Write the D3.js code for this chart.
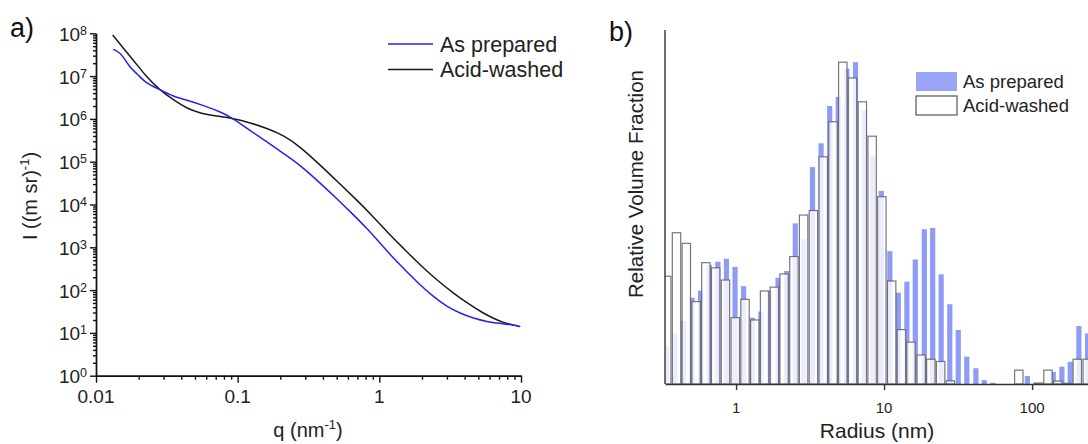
<!DOCTYPE html>
<html>
<head>
<meta charset="utf-8">
<script src="https://cdn.jsdelivr.net/npm/d3@7"></script>
<style>
  body { margin: 0; background: #fff; }
  svg { display: block; font-family: "Liberation Sans", Arial, sans-serif; }
</style>
</head>
<body>
<svg id="fig" width="1088" height="444"></svg>
<script>
// ---- panel a: scattering curves ----
var qPrep = [0.01325, 0.01494, 0.01577, 0.01758, 0.01938, 0.0228, 0.0283, 0.0352, 0.0437, 0.0605,
  0.0751, 0.0884, 0.104, 0.129, 0.1605, 0.210, 0.276, 0.382, 0.514, 0.640, 0.817, 1.014, 1.259,
  1.564, 1.941, 2.41, 3.00, 3.72, 4.62, 5.74, 7.13, 8.85, 9.87];
var iPrep = [4.23e7, 3.41e7, 2.61e7, 1.52e7, 1.16e7, 6.53e6, 4.92e6, 3.30e6, 2.77e6, 1.93e6,
  1.47e6, 1.12e6, 7.89e5, 4.76e5, 2.93e5, 1.57e5, 8.37e4, 3.18e4, 1.27e4, 6220, 2780, 1240, 553,
  269, 131.5, 70.1, 40.9, 28.7, 21.9, 18.3, 16.7, 15.3, 14.0];
var qWash = [0.01312, 0.01559, 0.01834, 0.0228, 0.0283, 0.0352, 0.0437, 0.0543, 0.0712, 0.0932,
  0.1224, 0.1605, 0.210, 0.276, 0.382, 0.528, 0.693, 0.861, 1.130, 1.48, 1.941, 2.55, 3.34, 4.38,
  5.43, 6.39, 7.52, 8.85, 9.87];
var iWash = [9.12e7, 4.47e7, 2.38e7, 9.37e6, 4.73e6, 2.77e6, 1.77e6, 1.35e6, 1.17e6, 1.03e6,
  8.15e5, 6.03e5, 4.20e5, 2.24e5, 8.37e4, 3.01e4, 1.27e4, 6220, 2310, 948, 386, 172, 84.1, 44.9,
  28.7, 21.9, 17.3, 15.3, 14.0];
var qTicks = [0.01, 0.1, 1, 10];
var qTickLabels = ["0.01", "0.1", "1", "10"];
var iExponents = [0, 1, 2, 3, 4, 5, 6, 7, 8];

// ---- panel b: size distributions ----
var rPrep = [0.338, 0.386, 0.441, 0.504, 0.576, 0.659, 0.753, 0.861, 0.984, 1.125, 1.287, 1.471,
  1.681, 1.922, 2.197, 2.512, 2.872, 3.283, 3.753, 4.290, 4.904, 5.606, 6.41, 7.33, 8.38, 9.57,
  10.94, 12.47, 14.26, 16.25, 18.7, 21.3, 24.3, 27.8, 31.7, 36.2, 41.7, 47.5, 54.4, 62.2, 71.1,
  81.3, 92.9, 106, 121, 139, 159, 181, 207, 237];
var vPrep = [0.12, 0.158, 0.196, 0.268, 0.290, 0.37, 0.380, 0.389, 0.364, 0.304, 0.206, 0.225,
  0.29, 0.33, 0.351, 0.499, 0.45, 0.674, 0.748, 0.864, 0.892, 0.98, 1.0, 0.85, 0.71, 0.60, 0.413,
  0.284, 0.318, 0.387, 0.481, 0.485, 0.341, 0.248, 0.168, 0.085, 0.049, 0.012, 0.004, 0, 0, 0,
  0.025, 0, 0, 0.038, 0.054, 0.069, 0.180, 0.157];
var rWash = [0.340, 0.396, 0.461, 0.537, 0.625, 0.728, 0.848, 0.988, 1.149, 1.338, 1.558, 1.814,
  2.11, 2.46, 2.86, 3.33, 3.88, 4.52, 5.26, 6.12, 7.13, 8.30, 9.66, 11.25, 13.1, 15.2, 17.8, 20.7,
  24.1, 28.0, 32.6, 38.0, 44.2, 51.5, 60.0, 69.8, 81.3, 94.6, 110, 128, 149, 174, 202, 236];
var vWash = [0.335, 0.470, 0.437, 0.256, 0.377, 0.361, 0.323, 0.206, 0.263, 0.199, 0.289, 0.301,
  0.342, 0.396, 0.525, 0.539, 0.706, 0.815, 1.0, 0.951, 0.877, 0.770, 0.582, 0.320, 0.169, 0.130,
  0.090, 0.077, 0.070, 0.010, 0, 0, 0, 0, 0, 0, 0.043, 0, 0.003, 0.043, 0.009, 0.002, 0.077, 0.077];
var rTicks = [1, 10, 100];

var seriesNames = ["As prepared", "Acid-washed"];
var lineColors = ["#2323f0", "#1a1a1a"];
var barBlue = "#8e9cf6";

var svg = d3.select("#fig");

// ================= panel a =================
var xa = d3.scaleLog().domain([0.01, 10]).range([96, 521]);
var ya = d3.scaleLog().domain([1, 1e8]).range([375.7, 33.3]);

function minorsOf(lo, hi) {
  var out = [];
  for (var d = lo; d < hi; d *= 10)
    for (var k = 2; k <= 9; k++) out.push(d * k);
  return out;
}

var ga = svg.append("g");

// minor + major ticks via d3 axes
ga.append("g").attr("transform", "translate(0,375.7)")
  .call(d3.axisBottom(xa).tickValues(minorsOf(0.01, 10)).tickSize(4).tickSizeOuter(0).tickFormat(""));
ga.append("g").attr("transform", "translate(0,375.7)")
  .call(d3.axisBottom(xa).tickValues(qTicks).tickSize(7).tickSizeOuter(0).tickFormat(""));
ga.append("g").attr("transform", "translate(96,0)")
  .call(d3.axisLeft(ya).tickValues(minorsOf(1, 1e8)).tickSize(3).tickSizeOuter(0).tickFormat(""));
ga.append("g").attr("transform", "translate(96,0)")
  .call(d3.axisLeft(ya).tickValues(iExponents.map(function (e) { return Math.pow(10, e); }))
    .tickSize(6).tickSizeOuter(0).tickFormat(""));
ga.selectAll(".domain, .tick line").attr("stroke", "#111").attr("stroke-width", 1.4);

qTicks.forEach(function (q, i) {
  ga.append("text").attr("x", xa(q)).attr("y", 402.5).attr("text-anchor", "middle")
    .attr("font-size", 19).attr("fill", "#222").text(qTickLabels[i]);
});
iExponents.forEach(function (e) {
  var t = ga.append("text").attr("x", 87).attr("y", ya(Math.pow(10, e)) + 7.5)
    .attr("text-anchor", "end").attr("font-size", 19).attr("fill", "#222");
  t.append("tspan").text("10");
  t.append("tspan").attr("dy", -6).attr("font-size", 12.5).text(e);
});

var xt = ga.append("text").attr("x", 308).attr("y", 437).attr("text-anchor", "middle")
  .attr("font-size", 20).attr("fill", "#222");
xt.append("tspan").text("q (nm");
xt.append("tspan").attr("dy", -8).attr("font-size", 13).text("-1");
xt.append("tspan").attr("dy", 8).text(")");

var yt = ga.append("text").attr("transform", "translate(37,196) rotate(-90)")
  .attr("text-anchor", "middle").attr("font-size", 20).attr("fill", "#222");
yt.append("tspan").text("I ((m sr)");
yt.append("tspan").attr("dy", -8).attr("font-size", 13).text("-1");
yt.append("tspan").attr("dy", 8).text(")");

var line = d3.line()
  .x(function (d) { return xa(d[0]); })
  .y(function (d) { return ya(d[1]); })
  .curve(d3.curveBasis);

ga.append("path").datum(d3.zip(qWash, iWash)).attr("d", line)
  .attr("fill", "none").attr("stroke", lineColors[1]).attr("stroke-width", 1.5);
ga.append("path").datum(d3.zip(qPrep, iPrep)).attr("d", line)
  .attr("fill", "none").attr("stroke", lineColors[0]).attr("stroke-width", 1.5);

seriesNames.forEach(function (name, i) {
  var y = 44 + i * 25.5;
  ga.append("line").attr("x1", 388).attr("x2", 433).attr("y1", y).attr("y2", y)
    .attr("stroke", lineColors[i]).attr("stroke-width", 1.5);
  ga.append("text").attr("x", 440).attr("y", y + 7.5).attr("font-size", 21.5)
    .attr("fill", "#222").text(name);
});

ga.append("text").attr("x", 10).attr("y", 37).attr("font-size", 27).attr("fill", "#111").text("a)");

// ================= panel b =================
var xb = d3.scaleLog().domain([0.331, 336]).range([665, 1110]);
var yb = d3.scaleLinear().domain([0, 1.1]).range([384, 30]);

var gb = svg.append("g");
svg.append("defs").append("clipPath").attr("id", "clipb")
  .append("rect").attr("x", 665).attr("y", 0).attr("width", 450).attr("height", 384);

var bars = gb.append("g").attr("clip-path", "url(#clipb)");
bars.selectAll("rect.prep").data(d3.zip(rPrep, vPrep)).join("rect")
  .attr("class", "prep")
  .attr("x", function (d) { return xb(d[0]) - 2.6; })
  .attr("width", 5.2)
  .attr("y", function (d) { return yb(d[1]); })
  .attr("height", function (d) { return yb(0) - yb(d[1]); })
  .attr("fill", barBlue);
bars.selectAll("rect.wash").data(d3.zip(rWash, vWash).filter(function (d) { return d[1] > 0; })).join("rect")
  .attr("class", "wash")
  .attr("x", function (d) { return xb(d[0]) - 4.2; })
  .attr("width", 8.4)
  .attr("y", function (d) { return yb(d[1]); })
  .attr("height", function (d) { return yb(0) - yb(d[1]); })
  .attr("fill", "#fff").attr("fill-opacity", 0.82)
  .attr("stroke", "#5e5e66").attr("stroke-opacity", 0.85).attr("stroke-width", 1.2);

gb.append("g").attr("transform", "translate(0,384)")
  .call(d3.axisBottom(xb).tickValues(rTicks).tickSize(6).tickSizeOuter(0).tickFormat(""));
gb.append("line").attr("x1", 665).attr("x2", 665).attr("y1", 30).attr("y2", 384);
gb.selectAll(".domain, .tick line, line").attr("stroke", "#333").attr("stroke-width", 1.4);

rTicks.forEach(function (r) {
  gb.append("text").attr("x", xb(r)).attr("y", 413).attr("text-anchor", "middle")
    .attr("font-size", 15).attr("fill", "#222").text(r);
});
gb.append("text").attr("x", 877).attr("y", 438).attr("text-anchor", "middle")
  .attr("font-size", 21).attr("fill", "#222").text("Radius (nm)");
gb.append("text").attr("transform", "translate(643,184) rotate(-90)")
  .attr("text-anchor", "middle").attr("font-size", 20.5).attr("fill", "#222")
  .text("Relative Volume Fraction");

seriesNames.forEach(function (name, i) {
  var y = 72 + i * 24;
  var sw = gb.append("rect").attr("x", 916).attr("y", y).attr("width", 41).attr("height", 19);
  if (i === 0) sw.attr("fill", "#9aa5f8");
  else sw.attr("fill", "#fff").attr("stroke", "#555").attr("stroke-width", 1.2);
  gb.append("text").attr("x", 963).attr("y", y + 16).attr("font-size", 18.5)
    .attr("fill", "#222").text(name);
});

gb.append("text").attr("x", 609).attr("y", 41).attr("font-size", 27).attr("fill", "#111").text("b)");
</script>
</body>
</html>
